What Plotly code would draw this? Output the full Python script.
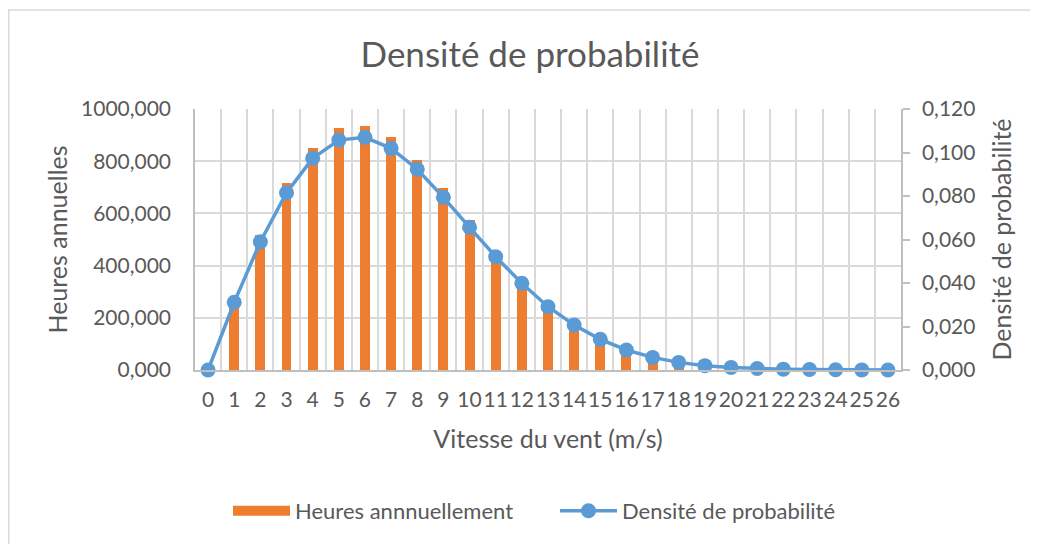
import plotly.graph_objects as go

vitesse = list(range(27))
tick_labels = [str(v) for v in vitesse]

heures = [0, 272, 517, 715, 852, 926, 936, 891, 806, 696, 575, 456, 350, 255, 181,
          124, 81, 51, 31, 18, 10, 6, 3, 2, 1, 0.5, 0.2]
densite = [0.0, 0.0311, 0.0590, 0.0815, 0.0973, 0.1057, 0.1070, 0.1019, 0.0923, 0.0794,
           0.0656, 0.0521, 0.0399, 0.0291, 0.0207, 0.0141, 0.0092, 0.0058, 0.0035,
           0.0020, 0.0012, 0.0007, 0.0004, 0.0002, 0.0001, 0.00005, 0.00002]

left_ticks = [0, 200, 400, 600, 800, 1000]
left_text = ["0,000", "200,000", "400,000", "600,000", "800,000", "1000,000"]
right_ticks = [0, 0.02, 0.04, 0.06, 0.08, 0.10, 0.12]
right_text = ["0,000", "0,020", "0,040", "0,060", "0,080", "0,100", "0,120"]

FONT = "Lato"
TXT = "#595959"
GRID = "#D9D9D9"
AX = "#BFBFBF"
ORANGE = "#ED7D31"
BLUE = "#5B9BD5"

fig = go.Figure()
fig.add_trace(go.Bar(
    x=vitesse, y=heures, name="Heures annnuellement", showlegend=False,
    legendgroup="h",
    marker=dict(color=ORANGE, line=dict(width=0)), width=0.38, yaxis="y",
))
# legend entry for the bars (wide swatch like Excel)
fig.add_trace(go.Scatter(
    x=[None], y=[None], name="Heures annnuellement", mode="lines",
    legendgroup="h", line=dict(color=ORANGE, width=14), yaxis="y",
))
fig.add_trace(go.Scatter(
    x=vitesse, y=densite, name="Densité de probabilité", mode="lines+markers",
    line=dict(color=BLUE, width=3.5),
    marker=dict(color=BLUE, size=15), yaxis="y2", cliponaxis=False,
))

fig.update_layout(
    width=1030, height=536,
    margin=dict(l=187, r=137, t=101, b=174, autoexpand=False),
    paper_bgcolor="white", plot_bgcolor="white",
    font=dict(family=FONT, color=TXT, size=20),
    title=dict(text="Densité de probabilité", x=522/1030, xanchor="center",
               y=1 - 47/536, yanchor="middle",
               font=dict(family=FONT, size=35, color=TXT)),
    showlegend=True,
    legend=dict(orientation="h", x=(228 - 195) / 706, xanchor="left",
                y=-0.54, yanchor="middle",
                font=dict(family=FONT, size=22, color=TXT), itemwidth=57,
                entrywidth=255, traceorder="normal"),
    bargap=0,
    xaxis=dict(
        range=[-0.5, 26.5], tickmode="array", tickvals=vitesse, ticktext=tick_labels,
        tickangle=0, automargin=False,
        showgrid=False, zeroline=False, showline=True, linecolor=AX, linewidth=1.5,
        ticks="", tickfont=dict(family=FONT, size=21, color=TXT),
        ticklabelstandoff=10,
        minor=dict(tickmode="linear", tick0=0.5, dtick=1, showgrid=True,
                   gridcolor=GRID, gridwidth=1.5, ticks=""),
        title=dict(text="Vitesse du vent (m/s)", standoff=21,
                   font=dict(family=FONT, size=25, color=TXT)),
    ),
    yaxis=dict(
        range=[0, 1000], tickmode="array", tickvals=left_ticks, ticktext=left_text,
        automargin=False,
        showgrid=True, gridcolor=GRID, gridwidth=1.5, zeroline=False,
        showline=True, linecolor=AX, linewidth=1.5, ticks="",
        tickfont=dict(family=FONT, size=21, color=TXT), ticklabelstandoff=18,
        title=dict(text="Heures annuelles", standoff=6,
                   font=dict(family=FONT, size=25, color=TXT)),
    ),
    yaxis2=dict(
        range=[0, 0.12], tickmode="array", tickvals=right_ticks, ticktext=right_text,
        automargin=False,
        overlaying="y", side="right", showgrid=False, zeroline=False,
        showline=True, linecolor=AX, linewidth=1.5, ticks="outside", ticklen=7,
        tickcolor=AX, tickwidth=1.5,
        tickfont=dict(family=FONT, size=21, color=TXT), ticklabelstandoff=8,
        title=dict(text="Densité de probabilité", standoff=19,
                   font=dict(family=FONT, size=25, color=TXT)),
    ),
)

# chart border (Excel chart area)
fig.add_shape(type="rect", xref="paper", yref="paper",
              x0=(8.75 - 195) / 706, x1=(1080 - 195) / 706,
              y0=(370 - 600) / 261, y1=(370 - 10) / 261,
              line=dict(color=GRID, width=1.5), fillcolor="rgba(0,0,0,0)", layer="below")

fig.write_html("out.html")
